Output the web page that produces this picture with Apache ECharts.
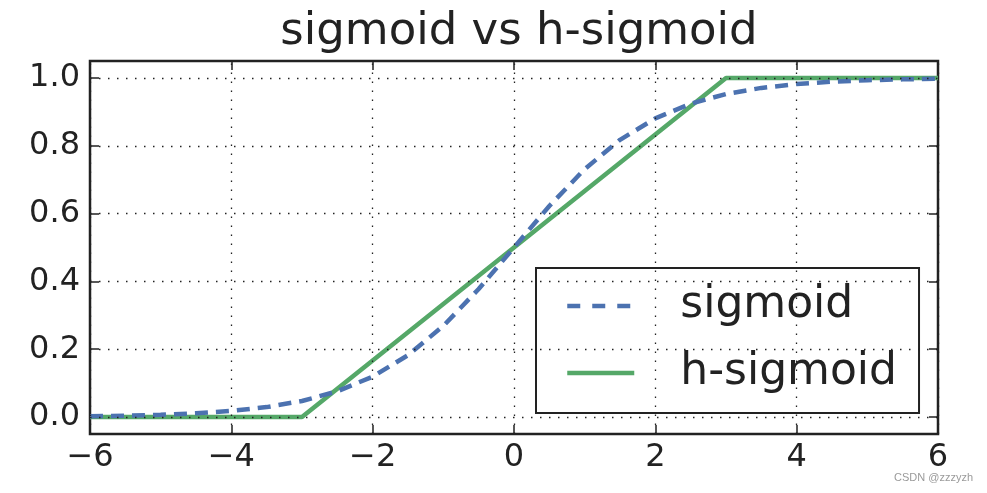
<!DOCTYPE html>
<html>
<head>
<meta charset="utf-8">
<script src="https://cdn.jsdelivr.net/npm/echarts@6/dist/echarts.min.js"></script>
<style>html,body{margin:0;padding:0;background:#fff;}#c{width:987px;height:493px;}</style>
</head>
<body>
<div id="c"></div>
<script>
const xs = [-6,-5.5,-5,-4.5,-4,-3.5,-3,-2.5,-2,-1.5,-1,-0.5,0,0.5,1,1.5,2,2.5,3,3.5,4,4.5,5,5.5,6];
const sigmoidVals = [0.0025,0.0041,0.0067,0.0110,0.0180,0.0293,0.0474,0.0759,0.1192,0.1824,0.2689,0.3775,0.5,0.6225,0.7311,0.8176,0.8808,0.9241,0.9526,0.9707,0.9820,0.9890,0.9933,0.9959,0.9975];
const hsigmoidVals = [0,0,0,0,0,0,0,0.0833,0.1667,0.25,0.3333,0.4167,0.5,0.5833,0.6667,0.75,0.8333,0.9167,1,1,1,1,1,1,1];
const xTicks = [-6,-4,-2,0,2,4,6];
const yTicks = [0,0.2,0.4,0.6,0.8,1.0];
const seriesNames = ['sigmoid','h-sigmoid'];
const titleText = 'sigmoid vs h-sigmoid';

const FONT = 'DejaVu Sans';
const BLUE = '#4C72B0', GREEN = '#55A868';
const chart = echarts.init(document.getElementById('c'), null, {renderer:'canvas'});
const gridDot = {color:'#222', width:1.3, type:[1.5,7.5]};
const fmtX = v => String(v).replace('-', '\u2212');
const fmtY = v => Number(v).toFixed(1);
const tickStyle = {show:true, inside:true, length:9, lineStyle:{color:'#222', width:1.5}};

const option = {
  animation:false,
  backgroundColor:'#fff',
  title:{text:titleText, left:514, textAlign:'center', top:5,
    textStyle:{fontFamily:FONT, fontSize:45, fontWeight:'normal', color:'#222'}},
  grid:{left:90, right:49, top:61, bottom:59, show:true, borderColor:'#222', borderWidth:2.5, backgroundColor:'transparent'},
  legend:{
    orient:'vertical', left:536, top:268, align:'left',
    data:[
      {name:seriesNames[0], itemStyle:{opacity:0}, lineStyle:{color:BLUE, width:4.5, type:[13,12]}},
      {name:seriesNames[1], itemStyle:{opacity:0}, lineStyle:{color:GREEN, width:4.5, type:'solid'}}
    ],
    itemWidth:67, itemHeight:20, itemGap:17,
    padding:[13,22,15,29],
    borderColor:'#222', borderWidth:2, backgroundColor:'#fff',
    textStyle:{fontFamily:FONT, fontSize:44, color:'#222', lineHeight:50, padding:[0,0,0,41]}
  },
  xAxis:[
    {type:'value', min:-6, max:6, interval:2, position:'bottom',
     axisLine:{show:false, onZero:false}, axisTick:tickStyle,
     axisLabel:{fontFamily:FONT, fontSize:32, color:'#222', margin:8, formatter:fmtX, showMinLabel:true, showMaxLabel:true},
     splitLine:{show:false}},
    {type:'value', min:-6, max:6, interval:2, position:'top',
     axisLine:{show:false, onZero:false}, axisTick:tickStyle,
     axisLabel:{show:false}, splitLine:{show:false}}
  ],
  yAxis:[
    {type:'value', min:-0.05, max:1.05, position:'left',
     axisLine:{show:false, onZero:false},
     axisTick:Object.assign({customValues:yTicks}, tickStyle),
     axisLabel:{fontFamily:FONT, fontSize:32, color:'#222', margin:10, customValues:yTicks, formatter:fmtY},
     splitLine:{show:false}},
    {type:'value', min:-0.05, max:1.05, position:'right',
     axisLine:{show:false, onZero:false},
     axisTick:Object.assign({customValues:yTicks}, tickStyle),
     axisLabel:{show:false}, splitLine:{show:false}}
  ],
  series:[
    {type:'line', name:'_grid', data:[], silent:true, z:1,
     markLine:{silent:true, symbol:'none', label:{show:false}, lineStyle:gridDot, animation:false,
       data:[...xTicks.map(v=>({xAxis:v})), ...yTicks.map(v=>({yAxis:v}))]}},
    {type:'line', name:seriesNames[0], data:xs.map((x,i)=>[x,sigmoidVals[i]]),
     symbol:'none', z:3, color:BLUE,
     lineStyle:{color:BLUE, width:4.5, type:[13,8]}},
    {type:'line', name:seriesNames[1], data:xs.map((x,i)=>[x,hsigmoidVals[i]]),
     symbol:'none', z:2, color:GREEN,
     lineStyle:{color:GREEN, width:4.5, type:'solid'}}
  ],
  graphic:[{type:'text', right:14, top:472, style:{text:'CSDN @zzzyzh', fontFamily:'Liberation Sans', fontSize:11, fill:'#9a9a9a'}}]
};
chart.setOption(option);
</script>
</body>
</html>
